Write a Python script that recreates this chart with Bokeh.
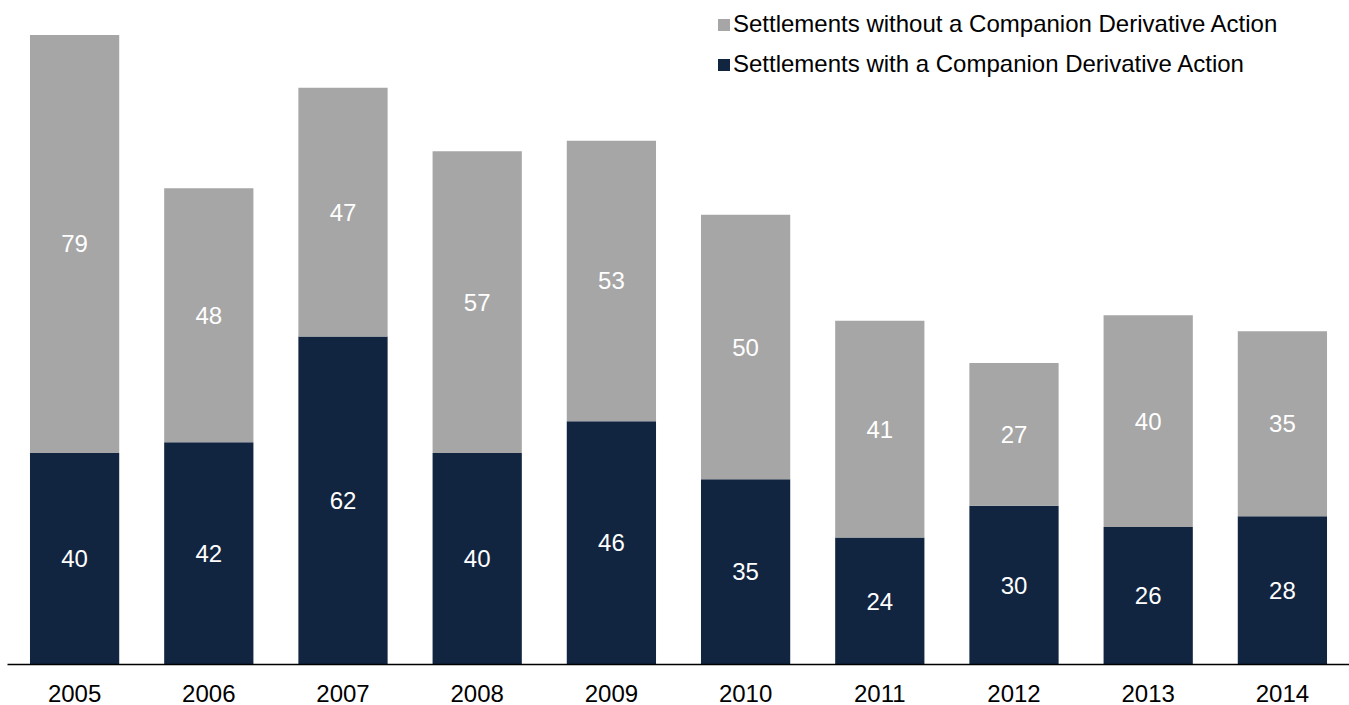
from bokeh.plotting import figure
from bokeh.models import ColumnDataSource, Legend, LegendItem, Range1d, LabelSet
from bokeh.core.properties import value
from bokeh.embed import file_html
from bokeh.resources import INLINE

years = ["2005", "2006", "2007", "2008", "2009", "2010", "2011", "2012", "2013", "2014"]
with_deriv = [40, 42, 62, 40, 46, 35, 24, 30, 26, 28]
without_deriv = [79, 48, 47, 57, 53, 50, 41, 27, 40, 35]
series_names = ["Settlements with a Companion Derivative Action",
                "Settlements without a Companion Derivative Action"]

NAVY = "#122540"
GRAY = "#A6A6A6"
FONT = "Liberation Sans"

tops = [a + b for a, b in zip(with_deriv, without_deriv)]
src = ColumnDataSource(dict(
    x=years,
    w=with_deriv,
    wo=without_deriv,
    top=tops,
    w_mid=[a / 2 for a in with_deriv],
    wo_mid=[a + b / 2 for a, b in zip(with_deriv, without_deriv)],
    w_txt=[str(v) for v in with_deriv],
    wo_txt=[str(v) for v in without_deriv],
))

p = figure(x_range=years, y_range=Range1d(0, 124), width=1349, height=705,
           output_backend="svg", toolbar_location=None,
           min_border_left=7, min_border_right=0, min_border_top=8, min_border_bottom=41)

r1 = p.vbar(x="x", bottom=0, top="w", width=0.665, source=src, fill_color=NAVY, line_color=None)
r2 = p.vbar(x="x", bottom="w", top="top", width=0.665, source=src, fill_color=GRAY, line_color=None)

for ycol, tcol in (("w_mid", "w_txt"), ("wo_mid", "wo_txt")):
    p.add_layout(LabelSet(x="x", y=ycol, text=tcol, source=src, text_align="center",
                          text_baseline="middle", text_color="white",
                          text_font=value(FONT), text_font_size="24px"))

legend = Legend(items=[LegendItem(label=series_names[1], renderers=[r2]),
                       LegendItem(label=series_names[0], renderers=[r1])],
                location=(709, 585), orientation="vertical",
                glyph_width=15, glyph_height=15, label_height=30, spacing=10,
                label_standoff=2, padding=0, margin=0,
                label_text_font=FONT, label_text_font_size="24px", label_text_color="#000000",
                border_line_color=None, background_fill_alpha=0)
p.add_layout(legend, "center")

p.yaxis.visible = False
p.grid.visible = False
p.outline_line_color = None
p.xaxis.axis_line_color = "#000000"
p.xaxis.axis_line_width = 1.3
p.xaxis.major_tick_line_color = None
p.xaxis.minor_tick_line_color = None
p.xaxis.major_label_standoff = 14
p.xaxis.major_label_text_font = FONT
p.xaxis.major_label_text_font_size = "24px"
p.xaxis.major_label_text_color = "#000000"
p.x_range.range_padding = 0
p.background_fill_color = None
p.border_fill_color = None

open("out.html", "w").write(file_html(p, INLINE))
